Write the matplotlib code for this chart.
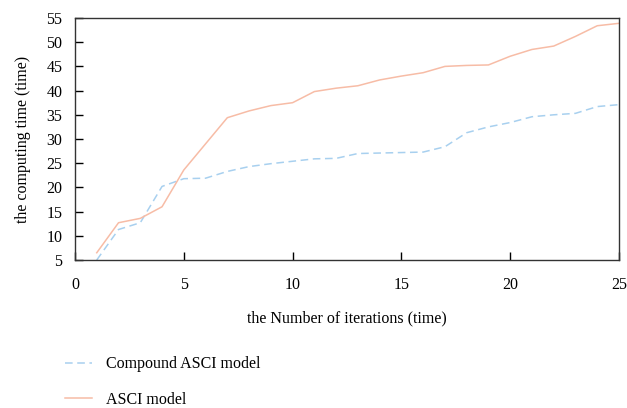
import matplotlib
matplotlib.use("Agg")
from matplotlib import pyplot as plt

iterations = list(range(1, 26))
compound_asci = [5.0, 11.3, 12.7, 20.2, 21.8, 21.9, 23.3, 24.3, 24.9, 25.4,
                 25.9, 26.0, 27.0, 27.1, 27.2, 27.3, 28.4, 31.3, 32.5, 33.4,
                 34.6, 35.0, 35.3, 36.7, 37.1]
asci = [6.5, 12.7, 13.6, 16.0, 23.6, 29.0, 34.4, 35.8, 36.9, 37.5,
        39.8, 40.5, 41.0, 42.2, 43.0, 43.7, 45.0, 45.2, 45.3, 47.1,
        48.5, 49.2, 51.2, 53.4, 53.9]

xticks = [0, 5, 10, 15, 20, 25]
yticks = [5, 10, 15, 20, 25, 30, 35, 40, 45, 50, 55]

plt.rcParams['font.family'] = ['Liberation Serif', 'DejaVu Serif']
plt.rcParams['font.size'] = 11.5

fig = plt.figure(figsize=(6.27, 4.08), dpi=100)
ax = fig.add_axes([75 / 627, 1 - 260 / 408, (619 - 75) / 627, (260 - 18) / 408])

ax.plot(iterations, compound_asci, '--', color='#a8d0ef', lw=1.1,
        dashes=(5, 3), label='Compound ASCI model')
ax.plot(iterations, asci, '-', color='#f7bca6', lw=1.1, label='ASCI model')

ax.set_xlim(0, 25)
ax.set_ylim(5, 55)
ax.set_xticks(xticks)
ax.set_yticks(yticks)
ax.tick_params(direction='in', length=6, width=1, top=False, right=False)
ax.tick_params(axis='x', pad=12)
ax.tick_params(axis='y', pad=9)
for s in ax.spines.values():
    s.set_linewidth(1.0)
    s.set_color('#333333')

ax.set_xlabel('the Number of iterations (time)', labelpad=13)
ax.set_ylabel('the computing time (time)', labelpad=11)

fig.legend(loc='upper left', bbox_to_anchor=(0.08, 1 - 342 / 408), frameon=False,
           handlelength=1.7, labelspacing=1.2, handletextpad=0.9)

fig.savefig("out.png", dpi=100)
